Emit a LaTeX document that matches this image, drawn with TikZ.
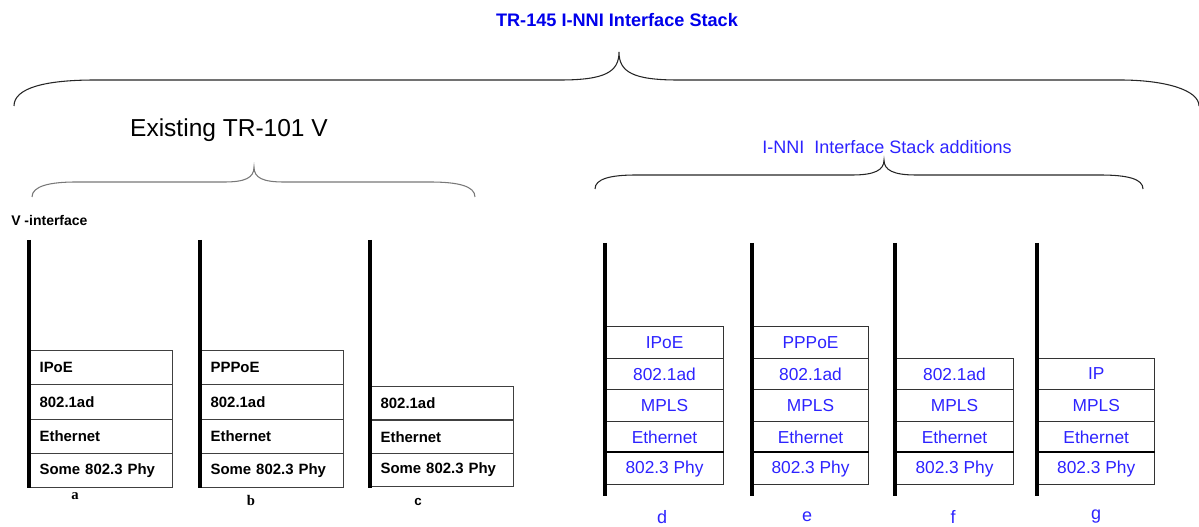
\documentclass[tikz,border=0pt]{standalone}
\usepackage{fontspec}
\setmainfont{Liberation Sans}
\newfontfamily\labserif{Liberation Serif}
\definecolor{titleblue}{RGB}{0,0,235}
\definecolor{layerblue}{RGB}{45,35,255}
\definecolor{bracegray}{RGB}{120,120,120}

% one row of a TR-101 stack: text to the left, bold (#5 = row pitch)
\newcommand\oldstack[5]{%
  \foreach \t [count=\k from 0] in {#4} {
    \node[oldrow, minimum height=#5*0.75pt] (#1\k) at (#2,{#3+\k*#5}) {\t};
  }}
% one row of an I-NNI stack: blue, centred
\newcommand\newstack[5]{%
  \foreach \t [count=\k from 0] in {#5} {
    \node[newrow, minimum width=#3] (#1\k) at (#2,{#4+\k*31.6}) {\t};
  }}

\begin{document}
\begin{tikzpicture}[x=0.75pt,y=-0.75pt,
  oldrow/.style={draw=black!75, line width=0.9pt, anchor=north west,
    text width=92.25pt, inner xsep=7.5pt, inner ysep=0pt,
    align=left, font=\fontsize{11.2}{13}\selectfont\bfseries},
  newrow/.style={draw=black!80, line width=0.8pt, anchor=north west,
    minimum height=23.7pt, inner sep=0pt, text=layerblue,
    font=\fontsize{13}{15}\selectfont},
  stackline/.style={line width=2.4pt, black},
  phyline/.style={line width=1.6pt, black},
  bigbrace/.style={line width=0.8pt, black!85},
  stacklabel/.style={text=layerblue, font=\fontsize{13.5}{15}\selectfont},
  oldlabel/.style={font=\fontsize{10}{11}\selectfont\bfseries},
]
\useasboundingbox (0,0) rectangle (1199,527);

% headings
\node[text=titleblue, font=\fontsize{13.6}{15}\selectfont\bfseries] (title) at (617,20) {TR-145 I-NNI Interface Stack};
\node[font=\fontsize{18.4}{21}\selectfont] (existing) at (229,130) {Existing TR-101 V};
\node[text=layerblue, font=\fontsize{13.5}{15}\selectfont] (additions) at (887,147) {I-NNI\ \ Interface Stack additions};
\node[anchor=west, font=\fontsize{10.5}{12}\selectfont\bfseries, inner sep=0pt] (vif) at (11,220) {V -interface};

% braces
\draw[bigbrace] (14,106) .. controls (14,88) and (45,80) .. (95,80) -- (560,80)
  .. controls (605,80) and (619,72) .. (619,52)
  .. controls (619,72) and (633,80) .. (678,80) -- (1120,80)
  .. controls (1165,80) and (1199,90) .. (1199,106);
\draw[line width=0.8pt, bracegray] (32,197) .. controls (32,186) and (50,182) .. (76,182) -- (224,182)
  .. controls (245,182) and (254,178) .. (254,167)
  .. controls (254,178) and (263,182) .. (284,182) -- (430,182)
  .. controls (458,182) and (475,186) .. (475,197);
\draw[bigbrace] (595,189) .. controls (595,179) and (610,175) .. (636,175) -- (852,175)
  .. controls (875,175) and (884,170) .. (884,160)
  .. controls (884,170) and (893,175) .. (916,175) -- (1100,175)
  .. controls (1128,175) and (1143,179) .. (1143,189);

% TR-101 stacks
\oldstack{a}{29}{350}{IPoE,802.1ad,Ethernet,Some 802.3 Phy}{34.25}
\oldstack{b}{200}{350}{PPPoE,802.1ad,Ethernet,Some 802.3 Phy}{34.25}
\oldstack{c}{370}{386}{802.1ad,Ethernet,Some 802.3 Phy}{33.4}

\coordinate (atop) at (29,240); \coordinate (abot) at (29,488);
\coordinate (btop) at (200,240); \coordinate (bbot) at (200,488);
\coordinate (ctop) at (370,240); \coordinate (cbot) at (370,488);
\draw[stackline] (atop) -- (abot);
\draw[stackline] (btop) -- (bbot);
\draw[stackline] (ctop) -- (cbot);

\node[oldlabel, font=\labserif\fontsize{11}{12}\selectfont\bfseries] (la) at (75,496) {a};
\node[oldlabel, font=\labserif\fontsize{11}{12}\selectfont\bfseries] (lb) at (251,500) {b};
\node[oldlabel] (lc) at (418,502) {c};

% I-NNI stacks
\newstack{d}{605}{88.5pt}{326}{IPoE,802.1ad,MPLS,Ethernet,802.3 Phy}
\newstack{e}{752}{87pt}{326}{PPPoE,802.1ad,MPLS,Ethernet,802.3 Phy}
\newstack{f}{895}{88.5pt}{357.6}{802.1ad,MPLS,Ethernet,802.3 Phy}
\newstack{g}{1037}{88pt}{357.6}{IP,MPLS,Ethernet,802.3 Phy}

\draw[phyline] (d4.north west) -- (d4.north east);
\draw[phyline] (e4.north west) -- (e4.north east);
\draw[phyline] (f3.north west) -- (f3.north east);
\draw[phyline] (g3.north west) -- (g3.north east);

\coordinate (dtop) at (605,243); \coordinate (dbot) at (605,496);
\coordinate (etop) at (752,243); \coordinate (ebot) at (752,496);
\coordinate (ftop) at (895,243); \coordinate (fbot) at (895,496);
\coordinate (gtop) at (1037,243); \coordinate (gbot) at (1037,496);
\draw[stackline] (dtop) -- (dbot);
\draw[stackline] (etop) -- (ebot);
\draw[stackline] (ftop) -- (fbot);
\draw[stackline] (gtop) -- (gbot);

\node[stacklabel] (ld) at (662,517) {d};
\node[stacklabel] (le) at (807,517) {e};
\node[stacklabel] (lf) at (953,517) {f};
\node[stacklabel] (lg) at (1096,517) {g};
\end{tikzpicture}
\end{document}
